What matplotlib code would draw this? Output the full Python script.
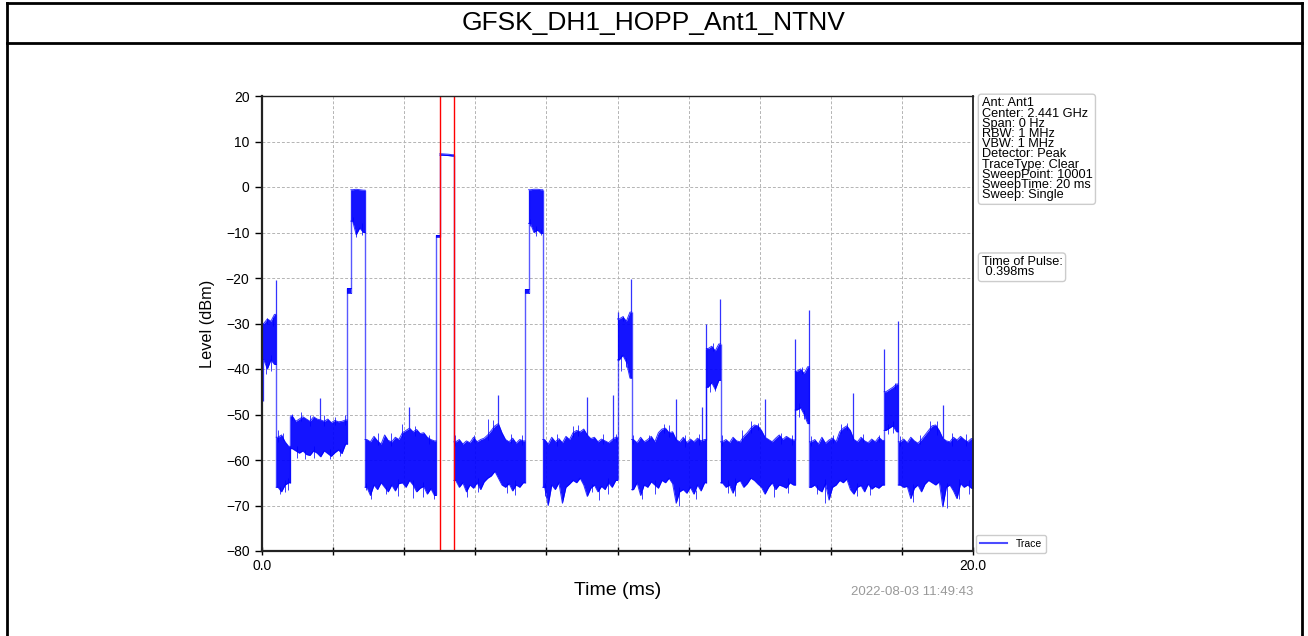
"""
Zero-span hopping trace GFSK_DH1_HOPP_Ant1_NTNV (peak detector, 20 ms sweep).
The trace is kept as a per-bin envelope (0.1 ms bins) read off the screenshot,
plus the narrow spikes that stick out of it.
"""
import matplotlib
matplotlib.use("Agg")
import matplotlib.pyplot as plt
from matplotlib.lines import Line2D
import numpy as np

plt.rcParams["font.family"] = ["Liberation Sans", "DejaVu Sans"]

TITLE = "GFSK_DH1_HOPP_Ant1_NTNV"
TIMESTAMP = "2022-08-03 11:49:43"
INFO_LINES = ["Ant: Ant1", "Center: 2.441 GHz", "Span: 0 Hz", "RBW: 1 MHz",
              "VBW: 1 MHz", "Detector: Peak", "TraceType: Clear",
              "SweepPoint: 10001", "SweepTime: 20 ms", "Sweep: Single"]

BIN_MS = 0.1
# outer envelope per 0.1 ms bin (dBm)
UPPER = [
    -30, -29, -29.5, -28,                                   # 0.0 burst
    -55, -54.5, -56, -57,                                   # 0.4
    -50.3, -51.5, -51, -50.5, -51, -51.5, -50.5, -51,       # 0.8
    -51.2, -51.5, -51, -51.8, -51.3, -51.6, -51.5, -51.2,
    -22.3,                                                  # 2.4 shelf
    -0.6, -0.5, -0.6, -0.7,                                 # 2.5 burst
    -55.5, -56, -54.8, -55.8, -56.5, -54.5, -55.7, -56, -55, -55.5,   # 2.9
    -54, -53.5, -53, -53.8, -53.3, -54.2, -54, -55, -55.5, -55.8,
    -10.5,                                                  # 4.9 shelf
    7.3, 7.25, 7.2, 7.1,                                    # 5.0 pulse
    -56, -55.5, -56.5, -55.8, -56.2, -55, -56, -55.5, -55.2, -54.5,   # 5.4
    -53.5, -52.5, -52, -54, -55.5, -56, -55.2, -56.3, -55.5, -55.8,
    -22.4,                                                  # 7.4 shelf
    -0.6, -0.5, -0.5, -0.6,                                 # 7.5 burst
    -55.5, -56.5, -55, -56, -55.3, -56.2, -54.8, -55.5, -54, -53.5, -53.8,  # 7.9
    -53.2, -54.5, -55.3, -55, -56, -55.4, -55.8, -56.2, -55.5, -55,
    -29, -28.5, -29.5, -27.5,                               # 10.0 burst
    -55.5, -56.2, -55, -56, -55.5, -54.8, -56, -54, -53.2, -53, -54,  # 10.4
    -53.8, -55.5, -56, -55, -56.2, -55.4, -56, -55.2, -55.8, -55.5,
    -35.5, -35, -36, -34.5,                                 # 12.5 burst
    -56, -55.5, -56.2, -55, -55.8, -56, -54.8, -54, -53, -52.3, -52.5,  # 12.9
    -53.5, -55, -55.5, -56, -55.2, -54.5, -55.5, -54.8, -55.3, -55.6,
    -40.5, -40, -41, -39.5,                                 # 15.0 burst
    -56, -55.5, -56.5, -55, -56.3, -55.6, -55.2, -56, -53.8, -53, -52.5,  # 15.4
    -53.5, -55.5, -56, -55, -55.8, -56.2, -55.4, -56, -55, -55.7,
    -45, -44.5, -44, -43.3,                                 # 17.5 burst
    -56, -55.4, -56.2, -55, -55.8, -56.3, -55.5, -54.5, -53.5, -52.5, -52.3,  # 17.9
    -53.5, -55.2, -55.8, -56, -55, -55.6, -54.8, -55.5, -56, -55.3,
]
LOWER = [
    -38, -40, -38, -39,
    -66, -67, -65.5, -65,
    -57.5, -58, -58.5, -58, -58.8, -59, -58, -58.5,
    -59.3, -58, -58.6, -59.2, -58.4, -57.8, -58.6, -56.5,
    -23.2,
    -7.5, -10.5, -9, -10,
    -66, -67.8, -65.5, -66.5, -65, -66, -67, -65.5, -66.8, -65.2,
    -65, -66, -64.5, -65.5, -67, -66.2, -65.8, -67.5, -66.3, -67.8,
    -11,
    7.0, 6.95, 6.9, 6.8,
    -64.5, -66, -65, -67, -65.5, -66.2, -65, -66.5, -64.8, -64,
    -63.5, -62.5, -64, -65.5, -66, -65.2, -66.8, -65.5, -66, -65,
    -23.3,
    -8, -10, -9.5, -10.2,
    -66, -70, -65.5, -66.5, -65, -69.5, -66, -65.3, -64.5, -65, -64,
    -65.5, -68, -66.2, -65.5, -67, -65.8, -66.5, -65, -66, -64.5,
    -38, -37, -38.5, -42,
    -66.5, -65, -67.8, -65.5, -66, -64.8, -65.5, -66.2, -64.5, -65, -64,
    -65.2, -69.5, -67, -66.5, -67.3, -66, -67.5, -65.5, -66.8, -65,
    -44, -43, -44.5, -42.5,
    -65, -66, -65.5, -67.3, -65, -64.5, -66, -65.2, -64, -64.5, -65.3,
    -66, -67.5, -66, -65, -66.5, -65.5, -65.8, -66.2, -65, -65.5,
    -49, -48.5, -50, -52,
    -66, -65.5, -66.5, -67, -65.2, -68.8, -66, -65.5, -64.5, -65, -64.2,
    -66.5, -67.5, -66, -65.6, -67, -65.3, -66.4, -65.8, -66.2, -65.5,
    -53.5, -53, -52.5, -53.8,
    -65.5, -66, -65.8, -68.5, -66.2, -65.5, -67, -65.3, -64.5, -65, -65.5,
    -64.8, -70.3, -66, -65.5, -66.8, -68.5, -65.2, -66, -65.5, -66.2,
]

# segment borders (ms): noise floor, bursts, shelves and the marked pulse
SEG_EDGES = [0.0, 0.4, 0.8, 2.4, 2.5, 2.9, 4.9, 5.0, 5.4, 7.4, 7.5, 7.9,
             10.0, 10.4, 12.5, 12.9, 15.0, 15.4, 17.5, 17.9, 20.0]

# single narrow spikes
SPIKE_T     = [0.02, 0.39, 1.63, 4.14, 6.65, 9.15, 9.88, 10.0, 10.38, 11.65, 12.38, 12.48,
               12.89, 14.15, 14.99, 15.39, 16.62, 17.5, 17.89, 19.15, 19.99]
SPIKE_LEVEL = [-47, -20.5, -46.4, -48.4, -45.7, -46.1, -45.7, -27.4, -20.3, -46.7, -48.3, -30,
               -24.6, -46.7, -33.3, -27, -45.2, -35.5, -29.4, -47.9, -38.4]

# small excursions just outside the dense band
MINOR_T = [
    0.1, 0.15, 0.25, 0.3,
    0.45, 0.52, 0.6, 0.66, 0.74,
    0.85, 0.98, 1.1, 1.22, 1.35, 1.47, 1.75, 1.9, 2.05, 2.2, 2.33,
    2.55, 2.65, 2.8,
    2.93, 3.07, 3.26, 3.5, 3.62, 3.83, 3.95, 4.25, 4.3, 4.53, 4.7, 4.83,
    5.43, 5.78, 5.95, 6.09, 6.37, 6.5, 6.88, 7.0, 7.12, 7.32,
    7.55, 7.7, 7.85,
    7.96, 8.29, 8.46, 8.76, 8.9, 9.28, 9.49, 9.6, 9.74, 9.97,
    10.1, 10.15, 10.25,
    10.45, 10.7, 10.9, 11.05, 11.3, 11.45, 11.72, 11.9, 12.2, 12.3,
    12.6, 12.7, 12.75,
    12.95, 13.1, 13.3, 13.5, 13.75, 13.95, 14.4, 14.6, 14.8, 14.9,
    15.1, 15.2, 15.25,
    15.45, 15.6, 15.85, 16.05, 16.3, 16.45, 16.75, 16.9, 17.1, 17.35,
    17.6, 17.75, 17.8,
    17.95, 18.3, 18.5, 18.8, 19.0, 19.26, 19.4, 19.6, 19.8, 19.9,
]
MINOR_LEVEL = [
    -41, -28.8, -40.5, -28.5,
    -53.5, -67.5, -54, -67, -66.5,
    -49.8, -59.6, -49.5, -59.8, -50, -59.5, -50.2, -59.7, -50.5, -59.2, -50,
    -8, -11, -10.5,
    -66.6, -68.5, -54, -67.5, -54, -68, -52, -68.3, -52.5, -68.2, -54.5, -68.5,
    -54.5, -68.1, -54.5, -67, -51, -51.2, -67.3, -54.2, -67.8, -54.5,
    -8.5, -10.8, -10.5,
    -68, -54.2, -67.5, -52.5, -52.3, -67, -68.8, -54.2, -67.4, -54.2,
    -40.5, -28.3, -39.5,
    -54.5, -68.5, -54.5, -67.5, -52, -52.2, -70, -54.5, -68.5, -54.3,
    -45, -34.2, -44.8,
    -54.5, -67.2, -68, -53.5, -51.5, -51.8, -68.2, -54, -67.3, -54.5,
    -50.5, -39.5, -51,
    -54.8, -67.5, -69.5, -54.5, -52, -51.8, -68, -54.3, -67.8, -54.5,
    -54.3, -54, -43,
    -54.8, -69.2, -54.5, -51.5, -51.4, -70.5, -54, -68.5, -54.3, -67.5,
]

MARKER_T = [5.0, 5.398]

TRACE = "blue"


def draw_trace(ax):
    up = np.asarray(UPPER)
    low = np.asarray(LOWER)
    centers = (np.arange(len(up)) + 0.5) * BIN_MS
    prev = None
    for k in range(len(SEG_EDGES) - 1):
        t0, t1 = SEG_EDGES[k], SEG_EDGES[k + 1]
        sel = (centers > t0) & (centers < t1)
        x = np.concatenate([[t0], centers[sel], [t1]])
        hi = np.concatenate([[up[sel][0]], up[sel], [up[sel][-1]]])
        lo = np.concatenate([[low[sel][0]], low[sel], [low[sel][-1]]])
        ax.fill_between(x, lo, hi, color=TRACE, alpha=0.92, linewidth=0)
        ax.plot(x, hi, color=TRACE, lw=0.7, alpha=0.8)
        ax.plot(x, lo, color=TRACE, lw=0.7, alpha=0.8)
        if prev is not None:
            ax.vlines(t0, min(prev[0], lo[0]), max(prev[1], hi[0]), color=TRACE, alpha=0.65, lw=1)
        prev = (lo[-1], hi[-1])

    for t, lev in zip(SPIKE_T, SPIKE_LEVEL):
        i = min(int(t / BIN_MS), len(up) - 1)
        base = up[i] if lev > up[i] else low[i]
        ax.vlines(t, base, lev, color=TRACE, alpha=0.8, lw=0.9)
    for t, lev in zip(MINOR_T, MINOR_LEVEL):
        i = min(int(t / BIN_MS), len(up) - 1)
        base = up[i] - 1 if lev > up[i] else low[i] + 1
        ax.vlines(t, base, lev, color=TRACE, alpha=0.75, lw=0.7)


def main():
    fig = plt.figure(figsize=(13.08, 6.36), dpi=100)
    W, H = 1308, 636
    ax = fig.add_axes([262 / W, 1 - 551 / H, 711 / W, 455 / H])

    draw_trace(ax)
    for t in MARKER_T:
        ax.axvline(t, color="red", lw=1.0)

    ax.set_xlim(0, 20)
    ax.set_ylim(-80, 20)
    ax.set_yticks(np.arange(-80, 21, 10))
    ax.set_xticks(np.arange(0, 21, 2))
    ax.set_xticklabels(["0.0"] + [""] * 9 + ["20.0"])
    ax.tick_params(axis="y", labelsize=10, length=5, width=1, pad=4)
    ax.tick_params(axis="x", labelsize=10, length=6, width=1, direction="inout", pad=3)
    ax.grid(True, color="#b4b4b4", linestyle=(0, (3, 2)), lw=0.7)
    ax.set_axisbelow(True)
    for side, lw in (("left", 1.6), ("bottom", 1.6), ("top", 1.0), ("right", 1.3)):
        ax.spines[side].set_linewidth(lw)
        ax.spines[side].set_color("#222222")

    ax.set_ylabel("Level (dBm)", fontsize=11.7, labelpad=8)
    ax.set_xlabel("Time (ms)", fontsize=14, labelpad=6)

    box = dict(boxstyle="round,pad=0.25", fc="white", ec="#cccccc", lw=1)
    ax.text(1.012, 0.997, "\n".join(INFO_LINES), transform=ax.transAxes,
            ha="left", va="top", fontsize=9.2, linespacing=0.8, bbox=box)
    pulse = MARKER_T[1] - MARKER_T[0]
    ax.text(1.012, 0.648, f"Time of Pulse:\n {pulse:.3f}ms", transform=ax.transAxes,
            ha="left", va="top", fontsize=9.2, linespacing=0.8, bbox=box)

    ax.legend(handles=[Line2D([], [], color=TRACE, alpha=0.7, lw=1.5, label="Trace")],
              loc="lower left", bbox_to_anchor=(1.004, -0.005), borderaxespad=0,
              fontsize=7.5, handlelength=2.6, framealpha=1, edgecolor="#cccccc")

    fig.text(973 / W, 1 - 592 / H, TIMESTAMP, ha="right", va="center",
             fontsize=9.5, color="#999999")

    # title bar and frame
    fig.text(0.5, 1 - 23 / H, TITLE, ha="center", va="center", fontsize=19)
    frame = dict(color="black", lw=2, transform=fig.transFigure)
    fig.add_artist(Line2D([7 / W, 7 / W], [0, 1 - 3 / H], **frame))
    fig.add_artist(Line2D([1302 / W, 1302 / W], [0, 1 - 3 / H], **frame))
    fig.add_artist(Line2D([7 / W, 1302 / W], [1 - 3 / H, 1 - 3 / H], **frame))
    fig.add_artist(Line2D([7 / W, 1302 / W], [1 - 43 / H, 1 - 43 / H], **frame))

    fig.savefig("out.png", dpi=100)
    plt.close(fig)


if __name__ == "__main__":
    main()
